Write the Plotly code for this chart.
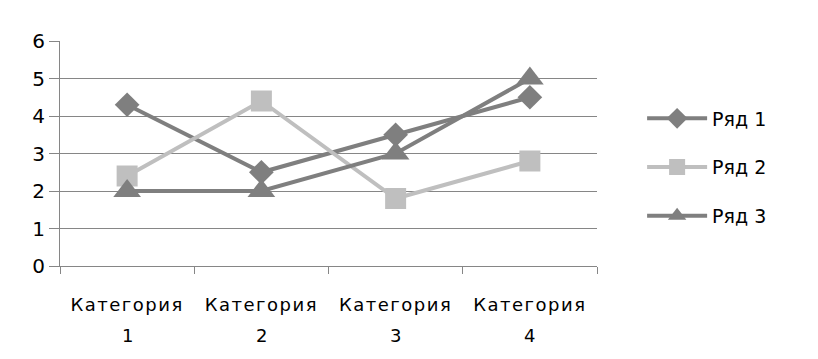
import plotly.graph_objects as go

categories = ["Категория 1", "Категория 2", "Категория 3", "Категория 4"]
cat_words = ["Категория", "Категория", "Категория", "Категория"]
cat_nums = ["1", "2", "3", "4"]
series1 = [4.3, 2.5, 3.5, 4.5]
series2 = [2.4, 4.4, 1.8, 2.8]
series3 = [2.0, 2.0, 3.0, 5.0]
names = ["Ряд 1", "Ряд 2", "Ряд 3"]

dark = "#7f7f7f"
light = "#bfbfbf"
font = "DejaVu Sans"

fig = go.Figure()
fig.add_trace(go.Scatter(x=categories, y=series1, name=names[0], mode="lines+markers",
                         line=dict(color=dark, width=4), legendgroup="a",
                         marker=dict(symbol="diamond", size=19, color=dark)))
fig.add_trace(go.Scatter(x=categories, y=series2, name=names[1], mode="lines+markers",
                         line=dict(color=light, width=4), legendgroup="b",
                         marker=dict(symbol="square", size=21, color=light)))
fig.add_trace(go.Scatter(x=categories, y=series3, name=names[2], mode="lines+markers",
                         line=dict(color=dark, width=4), legendgroup="c",
                         marker=dict(symbol="triangle-up", size=24, color=dark)))

for c, n in zip(categories, cat_nums):
    fig.add_annotation(x=c, xref="x", y=0, yref="paper", yshift=-82, text=n,
                       showarrow=False, font=dict(family=font, size=18, color="#000"))

fig.update_layout(
    width=810, height=351,
    margin=dict(l=52, r=221, t=33, b=93, autoexpand=False),
    paper_bgcolor="white", plot_bgcolor="white",
    font=dict(family=font, size=17, color="#000"),
    legend=dict(x=1.084, y=0.74, xanchor="left", yanchor="top",
                font=dict(family=font, size=19, color="#000"),
                tracegroupgap=21, traceorder="grouped", itemwidth=60),
    showlegend=True,
)
fig.update_xaxes(
    type="category", range=[-0.5, 3.5], automargin=False,
    tickmode="array", tickvals=categories,
    ticktext=['<span style="letter-spacing:1.5px">' + w + '</span>' for w in cat_words],
    tickson="boundaries", ticks="outside", ticklen=7, tickcolor="#868686",
    showline=True, linecolor="#868686", linewidth=1,
    showgrid=False, tickfont=dict(family=font, size=18, color="#000"),
    ticklabelstandoff=22,
)
fig.update_yaxes(
    range=[0, 6], dtick=1, tick0=0, automargin=False,
    showgrid=True, gridcolor="#868686", gridwidth=1,
    showline=True, linecolor="#868686", linewidth=1,
    ticks="outside", ticklen=10, tickcolor="#868686",
    tickfont=dict(family=font, size=20, color="#000"),
    zeroline=False,
)

fig.write_html("out.html")
